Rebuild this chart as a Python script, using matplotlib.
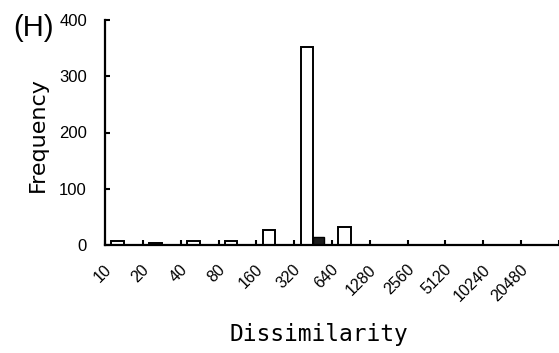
import numpy as np
import matplotlib
matplotlib.use("Agg")
import matplotlib.pyplot as plt
from matplotlib.transforms import ScaledTranslation, blended_transform_factory

# histogram of dissimilarity classes (panel H)
categories = ["10", "20", "40", "80", "160", "320", "640", "1280", "2560",
              "5120", "10240", "20480"]
white_counts = [8, 3, 8, 7, 27, 352, 32, 0, 0, 0, 0, 0]
dark_counts = [0, 0, 0, 0, 0, 14, 0, 0, 0, 0, 0, 0]

W, H = 559, 353
fig = plt.figure(figsize=(W / 100, H / 100), dpi=100)
ax = fig.add_axes([105 / W, 1 - 245 / H, 1 - 105 / W, 225 / H])

idx = np.arange(len(categories))
ax.bar(idx + 0.17, white_counts, width=0.33, align="edge", color="white",
       edgecolor="black", linewidth=1.4)
ax.bar(idx + 0.50, dark_counts, width=0.29, align="edge", color="#1c1c1c",
       edgecolor="black", linewidth=1.0)

ax.set_xlim(0, 11.85)
ax.set_ylim(0, 400)
ax.set_yticks([0, 100, 200, 300, 400])
ax.set_xticks(np.arange(len(categories) + 1))
ax.set_xticklabels([])
for s in ("top", "right"):
    ax.spines[s].set_visible(False)
for s in ("left", "bottom"):
    ax.spines[s].set_linewidth(1.6)
ax.tick_params(axis="both", direction="in", length=3.5, width=1.5)
ax.tick_params(axis="y", pad=13, labelsize=12)
for lab in ax.get_yticklabels():
    lab.set_family(["Liberation Sans", "DejaVu Sans"])

trans = blended_transform_factory(ax.transData, ax.transAxes) + \
    ScaledTranslation(0, -0.17, fig.dpi_scale_trans)
for i, c in enumerate(categories):
    ax.text(i + 0.25, 0, c, transform=trans, rotation=45, ha="right",
            va="top", fontsize=11.5, family=["Liberation Sans", "DejaVu Sans"])

fig.text(38 / W, 1 - 135 / H, "Frequency", rotation=90, ha="center",
         va="center", fontsize=16, family="DejaVu Sans")
fig.text(319 / W, 1 - 335 / H, "Dissimilarity", ha="center", va="center",
         fontsize=16.5, family="DejaVu Sans Mono")
fig.text(13 / W, 1 - 28 / H, "(H)", ha="left", va="center", fontsize=21,
         family=["Liberation Sans", "DejaVu Sans"])

fig.savefig("out.png", dpi=100)
